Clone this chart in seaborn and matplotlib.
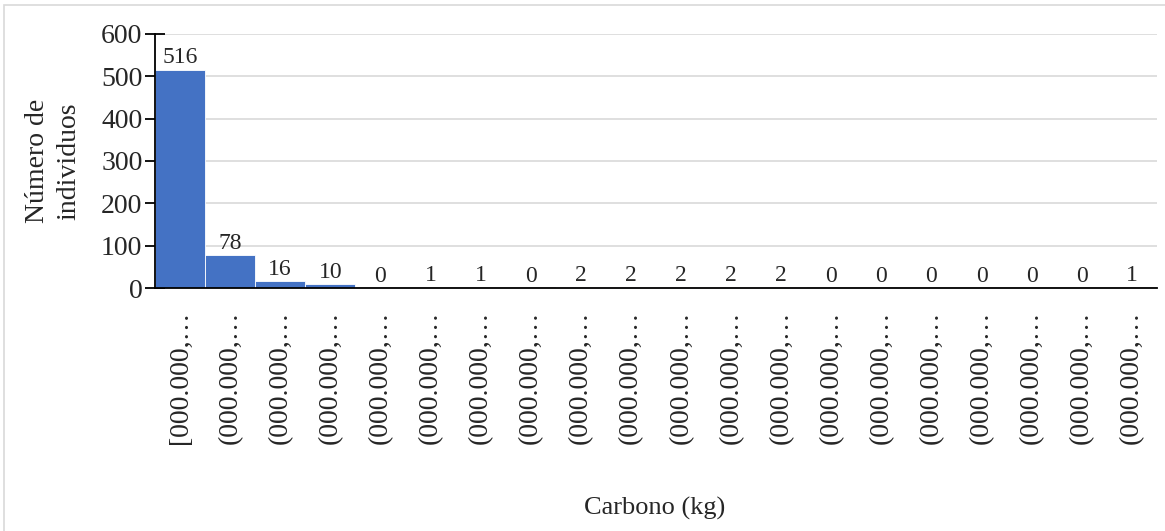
import matplotlib
matplotlib.use("Agg")
import matplotlib.pyplot as plt
from matplotlib.patches import Rectangle
import seaborn as sns
import pandas as pd

# Carbon-class frequency table
labels = ["[000.000,…"] + ["(000.000,…"] * 19
counts = [516, 78, 16, 10, 0, 1, 1, 0, 2, 2, 2, 2, 2, 0, 0, 0, 0, 0, 0, 1]

df = pd.DataFrame({"clase": [f"c{i}" for i in range(len(counts))], "n": counts})

sns.set_theme(style="white")
plt.rcParams["font.family"] = ["Liberation Serif", "DejaVu Serif"]

fig = plt.figure(figsize=(11.65, 5.31), dpi=100)
ax = fig.add_axes([0.133, 0.4576, 0.860, 0.4784])

sns.barplot(data=df, x="clase", y="n", color="#4472C4", width=1.0,
            edgecolor="white", linewidth=0.6, saturation=1, ax=ax, zorder=3)

ax.set_ylim(0, 600)
ax.set_yticks(range(0, 601, 100))
ax.set_xlim(-0.5, len(counts) - 0.5)
ax.yaxis.grid(True, color="#d9d9d9", linewidth=1.2, zorder=0)
ax.xaxis.grid(False)
for s in ["top", "right"]:
    ax.spines[s].set_visible(False)
for s in ["left", "bottom"]:
    ax.spines[s].set_color("black")
    ax.spines[s].set_linewidth(1.3)
    ax.spines[s].set_zorder(4)

ax.tick_params(axis="y", which="major", left=True, direction="inout", length=14,
               width=1.3, color="black", labelsize=20, pad=2)
ax.tick_params(axis="x", bottom=False, labelsize=20, pad=10)
ax.set_xticks(range(len(counts)))
ax.set_xticklabels(labels, rotation=90, va="top", ha="center")

for i, v in enumerate(counts):
    ax.text(i, v + 3, str(v), ha="center", va="bottom", fontsize=17, zorder=5)

ax.set_ylabel("Número de\nindividuos", fontsize=20, labelpad=14, linespacing=1.35)
ax.set_xlabel("")
fig.text(0.562, 0.042, "Carbono (kg)", ha="center", va="center", fontsize=19)

# light outer frame
fig.add_artist(Rectangle((0.0035, -0.05), 1.0, 1.0405, transform=fig.transFigure,
                         fill=False, edgecolor="#d9d9d9", linewidth=1.2))

fig.savefig("out.png", dpi=100)
